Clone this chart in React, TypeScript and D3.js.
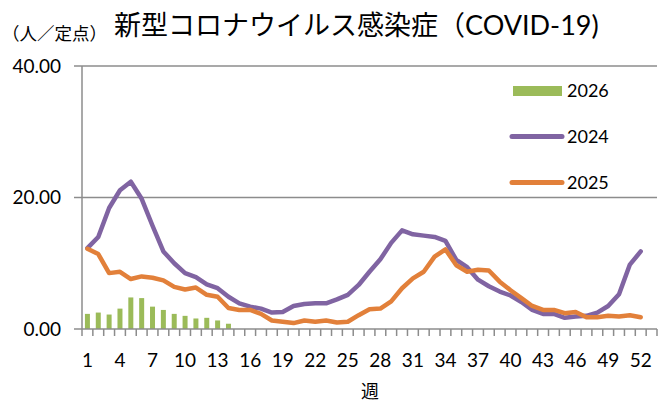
import React from "react";
import * as d3 from "d3";

const weeks: number[] = d3.range(1, 54);
const tickWeeks: number[] = [1, 4, 7, 10, 13, 16, 19, 22, 25, 28, 31, 34, 37, 40, 43, 46, 49, 52];
const yTicks: number[] = [0, 20, 40];

const s2024: number[] = [
  12.3, 14.0, 18.4, 21.1, 22.4, 19.8, 15.7, 11.8, 10.0, 8.5,
  7.9, 6.8, 6.2, 4.9, 3.9, 3.4, 3.1, 2.5, 2.6, 3.5,
  3.8, 3.9, 3.9, 4.5, 5.2, 6.7, 8.7, 10.6, 13.1, 15.0,
  14.4, 14.2, 14.0, 13.4, 10.5, 9.4, 7.5, 6.5, 5.7, 5.1,
  4.1, 2.9, 2.3, 2.3, 1.7, 1.9, 2.0, 2.5, 3.5, 5.3,
  9.8, 11.8,
];
const s2025: number[] = [
  12.2, 11.4, 8.5, 8.7, 7.6, 8.0, 7.8, 7.4, 6.4, 6.0,
  6.3, 5.2, 4.9, 3.2, 2.9, 2.9, 2.3, 1.3, 1.1, 0.9,
  1.3, 1.1, 1.3, 1.0, 1.1, 2.1, 3.0, 3.1, 4.2, 6.2,
  7.7, 8.7, 11.0, 12.1, 9.7, 8.7, 9.0, 8.9, 7.2, 5.9,
  4.7, 3.5, 2.9, 2.9, 2.4, 2.6, 1.8, 1.8, 2.0, 1.9,
  2.1, 1.8,
];
const s2026: number[] = [2.3, 2.5, 2.2, 3.1, 4.8, 4.7, 3.4, 2.9, 2.3, 2.0, 1.6, 1.7, 1.3, 0.8];

const W = 665;
const H = 405;
const left = 82;
const right = 657;
const top = 66;
const bottom = 329;

const GRID = "#8c8c8c";
const GREEN = "#9bbb59";
const PURPLE = "#8064a2";
const ORANGE = "#e2803a";
const FONT = "Lato, 'Liberation Sans', sans-serif";
const CJK = "'Noto Sans CJK JP', sans-serif";

export default function App() {
  const x = d3.scaleBand<number>().domain(weeks).range([left, right]).paddingInner(0).paddingOuter(0);
  const y = d3.scaleLinear().domain([0, 40]).range([bottom, top]);
  const bw = x.bandwidth();
  const cx = (w: number) => (x(w) as number) + bw / 2;
  const line = d3
    .line<number>()
    .x((_, i) => cx(i + 1))
    .y((d) => y(d))
    .curve(d3.curveLinear);
  const barW = bw * 0.46;

  const boundaries = d3.range(0, 54).map((i) => left + i * bw);

  return (
    <svg width={W} height={H} style={{ position: "absolute", left: 0, top: 0, background: "#fff" }}>
      {/* title */}
      <text x={2} y={40} fontFamily={CJK} fontSize={17.5} fill="#000">（人／定点）</text>
      <text x={114} y={35} fontFamily={CJK} fontSize={27} fill="#000">
        新型コロナウイルス感染症（<tspan fontFamily={FONT}>COVID-19)</tspan>
      </text>

      {/* grid lines */}
      {yTicks.filter((t) => t > 0).map((t) => (
        <line key={t} x1={left} x2={right} y1={y(t)} y2={y(t)} stroke={GRID} strokeWidth={1.5} />
      ))}
      {/* y axis */}
      <line x1={left} x2={left} y1={top} y2={bottom} stroke={GRID} strokeWidth={1.5} />
      {yTicks.map((t) => (
        <g key={t}>
          <line x1={left - 8} x2={left} y1={y(t)} y2={y(t)} stroke={GRID} strokeWidth={1.5} />
          <text x={61} y={y(t)} dy="0.35em" textAnchor="end" fontFamily={FONT} fontSize={19} fill="#000">
            {t.toFixed(2)}
          </text>
        </g>
      ))}

      {/* bars */}
      {s2026.map((v, i) => (
        <rect key={i} x={cx(i + 1) - barW / 2} y={y(v)} width={barW} height={y(0) - y(v)} fill={GREEN} />
      ))}

      {/* x axis */}
      <line x1={left} x2={right} y1={bottom} y2={bottom} stroke={GRID} strokeWidth={1.5} />
      {boundaries.map((b, i) => (
        <line key={i} x1={b} x2={b} y1={bottom} y2={bottom + 7} stroke={GRID} strokeWidth={1.5} />
      ))}
      {tickWeeks.map((w) => (
        <text key={w} x={cx(w)} y={360} dy="0.35em" textAnchor="middle" fontFamily={FONT} fontSize={19} fill="#000">
          {w}
        </text>
      ))}
      <text x={370} y={392} dy="0.35em" textAnchor="middle" fontFamily={CJK} fontSize={18} fill="#000">週</text>

      {/* lines */}
      <path d={line(s2024) || ""} fill="none" stroke={PURPLE} strokeWidth={4.5} strokeLinejoin="round" strokeLinecap="round" />
      <path d={line(s2025) || ""} fill="none" stroke={ORANGE} strokeWidth={4.5} strokeLinejoin="round" strokeLinecap="round" />

      {/* legend */}
      <rect x={513} y={86} width={49} height={10} fill={GREEN} />
      <text x={567} y={91} dy="0.35em" fontFamily={FONT} fontSize={18} fill="#000">2026</text>
      <line x1={512} x2={562} y1={136.5} y2={136.5} stroke={PURPLE} strokeWidth={5} strokeLinecap="round" />
      <text x={567} y={136.5} dy="0.35em" fontFamily={FONT} fontSize={18} fill="#000">2024</text>
      <line x1={512} x2={562} y1={182.5} y2={182.5} stroke={ORANGE} strokeWidth={5} strokeLinecap="round" />
      <text x={567} y={182.5} dy="0.35em" fontFamily={FONT} fontSize={18} fill="#000">2025</text>
    </svg>
  );
}
